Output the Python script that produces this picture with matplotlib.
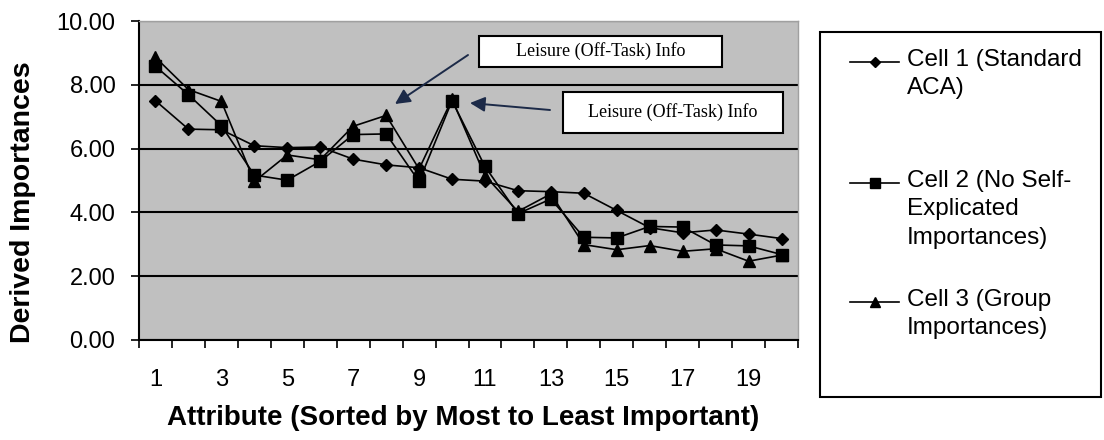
import matplotlib
matplotlib.use("Agg")
import matplotlib.pyplot as plt
from matplotlib.lines import Line2D
from matplotlib.patches import Rectangle, FancyArrowPatch
import numpy as np

attributes = list(range(1, 21))
cell1 = [7.50, 6.61, 6.59, 6.09, 6.03, 6.05, 5.67, 5.49, 5.40, 5.04,
         4.98, 4.68, 4.65, 4.60, 4.06, 3.52, 3.36, 3.45, 3.32, 3.18]
cell2 = [8.58, 7.69, 6.72, 5.17, 5.01, 5.60, 6.44, 6.46, 4.97, 7.50,
         5.44, 3.96, 4.42, 3.22, 3.20, 3.56, 3.54, 2.98, 2.95, 2.68]
cell3 = [8.86, 7.85, 7.48, 4.97, 5.80, 5.65, 6.70, 7.04, 5.36, 7.55,
         5.15, 4.03, 4.58, 2.99, 2.83, 2.96, 2.78, 2.86, 2.47, 2.66]
series_labels = ["Cell 1 (Standard\nACA)",
                 "Cell 2 (No Self-\nExplicated\nImportances)",
                 "Cell 3 (Group\nImportances)"]
xtick_labels = [str(v) for v in range(1, 20, 2)]
ytick_values = [0, 2, 4, 6, 8, 10]
annotation_text = "Leisure (Off-Task) Info"

W, H = 1104, 440
fig = plt.figure(figsize=(W / 100, H / 100), dpi=100)

def fx(px):
    return px / W

def fy(py):
    return 1 - py / H

ax = fig.add_axes([fx(139), fy(340), fx(798) - fx(139), fy(21) - fy(340)])
ax.set_facecolor("#C0C0C0")
ax.set_xlim(0.5, 20.5)
ax.set_ylim(0, 10)
ax.set_axisbelow(True)
ax.yaxis.grid(True, color="black", linewidth=1.5)

sans = ["Liberation Sans", "DejaVu Sans"]
markers = [("D", 6.5), ("s", 9), ("^", 9)]
for vals, (m, ms) in zip([cell1, cell2, cell3], markers):
    ax.plot(attributes, vals, color="black", linewidth=1.2, marker=m,
            markersize=ms, markerfacecolor="black", markeredgecolor="black",
            zorder=3)

ax.set_yticks(ytick_values)
ax.set_yticklabels([f"{v:.2f}" for v in ytick_values], fontsize=17, family=sans)
ax.set_xticks(list(range(1, 20, 2)))
ax.set_xticklabels(xtick_labels, fontsize=17, family=sans)
ax.set_xticks(np.arange(0.5, 21, 1), minor=True)
ax.tick_params(axis="x", which="major", length=0, pad=21)
ax.tick_params(axis="x", which="minor", length=6, width=1.2, direction="out")
ax.tick_params(axis="y", length=6, width=1.2, direction="out", pad=11)
for s in ["left", "bottom"]:
    ax.spines[s].set_color("black")
    ax.spines[s].set_linewidth(1.5)
for s in ["top", "right"]:
    ax.spines[s].set_color("#A0A0A0")
    ax.spines[s].set_linewidth(1.0)

fig.text(fx(23), fy(202), "Derived Importances", rotation=90, ha="center",
         va="center", fontsize=20.5, fontweight="bold", family=sans)
fig.text(fx(463), fy(418), "Attribute (Sorted by Most to Least Important)",
         ha="center", va="center", fontsize=20, fontweight="bold", family=sans)

# Annotation boxes
serif = ["Liberation Serif", "DejaVu Serif"]
for (x0, y0, x1, y1) in [(479, 36, 722, 67), (563, 92, 783, 133)]:
    fig.add_artist(Rectangle((fx(x0), fy(y1)), fx(x1) - fx(x0), fy(y0) - fy(y1),
                             facecolor="white", edgecolor="black", linewidth=1.5,
                             transform=fig.transFigure, zorder=5))
    fig.text(fx((x0 + x1) / 2), fy((y0 + y1) / 2), annotation_text,
             ha="center", va="center", fontsize=13, family=serif, zorder=6)

arrow_color = "#1c2a48"
for (xs, ys, xe, ye) in [(468, 55, 395, 104), (550, 110, 470, 103)]:
    fig.add_artist(FancyArrowPatch(
        (fx(xs), fy(ys)), (fx(xe), fy(ye)), transform=fig.transFigure,
        arrowstyle="-|>,head_length=9,head_width=4.5", color=arrow_color,
        linewidth=1.4, shrinkA=0, shrinkB=0, zorder=6))

# Legend box
fig.add_artist(Rectangle((fx(820), fy(397)), fx(1101) - fx(820), fy(32) - fy(397),
                         facecolor="white", edgecolor="black", linewidth=1.5,
                         transform=fig.transFigure, zorder=5))
entry_y = [62, 183, 302]
for (m, ms), label, yy in zip(markers, series_labels, entry_y):
    fig.add_artist(Line2D([fx(850), fx(899)], [fy(yy), fy(yy)], color="black",
                          linewidth=1.2, transform=fig.transFigure, zorder=6))
    fig.add_artist(Line2D([fx(875)], [fy(yy)], marker=m, markersize=ms * 0.8,
                          color="black", transform=fig.transFigure, zorder=7))
    fig.text(fx(907), fy(yy - 13), label, ha="left", va="top", fontsize=17.5,
             family=sans, linespacing=1.38, zorder=7)

fig.savefig("out.png", dpi=100)
